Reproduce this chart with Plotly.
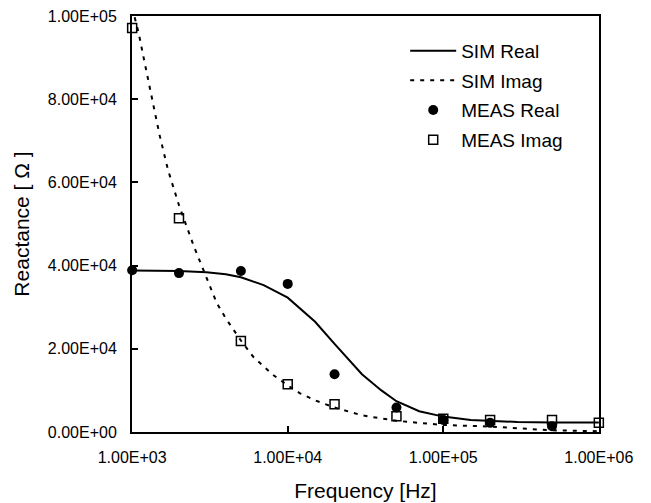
import plotly.graph_objects as go

# ---- data (values in ohms) ----
sim_freq_real = [1e3, 2e3, 3e3, 4e3, 5e3, 7e3, 1e4, 1.5e4, 2e4, 2.5e4, 3e4, 4e4, 5e4, 7e4, 1e5, 1.5e5, 2e5, 3e5, 5e5, 1e6]
sim_real = [38800, 38700, 38400, 37900, 37200, 35300, 32300, 26500, 21200, 17300, 13900, 10000, 7400, 5000, 3700, 2900, 2700, 2400, 2300, 2300]

sim_freq_imag = [1e3, 1.1e3, 1.2e3, 1.3e3, 1.4e3, 1.5e3, 1.7e3, 2e3, 2.5e3, 3e3, 3.5e3, 4e3, 5e3, 6e3, 8e3, 1e4, 1.2e4, 1.5e4, 2e4, 3e4, 5e4, 7e4, 1e5, 2e5, 3e5, 5e5, 1e6]
sim_imag = [102000, 96000, 89000, 82500, 76500, 71400, 63000, 54500, 44500, 37100, 31000, 27300, 22000, 18100, 13800, 11200, 9300, 7600, 5900, 4000, 2700, 2200, 1700, 1300, 900, 400, 200]

meas_freq_real = [1e3, 2e3, 5e3, 1e4, 2e4, 5e4, 1e5, 2e5, 5e5]
meas_real = [38900, 38200, 38700, 35600, 13900, 5900, 2900, 2200, 1400]

meas_freq_imag = [1e3, 2e3, 5e3, 1e4, 2e4, 5e4, 1e5, 2e5, 5e5, 1e6]
meas_imag = [97100, 51400, 21900, 11500, 6700, 3800, 3200, 2900, 2900, 2200]

x_tickvals = [1e3, 1e4, 1e5, 1e6]
x_ticktext = ["1.00E+03", "1.00E+04", "1.00E+05", "1.00E+06"]
y_tickvals = [0, 20000, 40000, 60000, 80000, 100000]
y_ticktext = ["0.00E+00", "2.00E+04", "4.00E+04", "6.00E+04", "8.00E+04", "1.00E+05"]

FONT = "Liberation Sans, Arial, sans-serif"

fig = go.Figure()
fig.add_trace(go.Scatter(x=sim_freq_real, y=sim_real, mode="lines", name="SIM Real",
                         legendgroup="a", line=dict(color="black", width=2)))
fig.add_trace(go.Scatter(x=sim_freq_imag, y=sim_imag, mode="lines", name="SIM Imag",
                         legendgroup="b", line=dict(color="black", width=2, dash="4px,6px")))
fig.add_trace(go.Scatter(x=meas_freq_real, y=meas_real, mode="markers", name="MEAS Real",
                         legendgroup="c", marker=dict(symbol="circle", size=10, color="black"),
                         cliponaxis=False))
fig.add_trace(go.Scatter(x=meas_freq_imag, y=meas_imag, mode="markers", name="MEAS Imag",
                         legendgroup="d", marker=dict(symbol="square-open", size=9, color="black",
                                                       line=dict(width=1.5)),
                         cliponaxis=False))

axis_common = dict(showline=True, linecolor="black", linewidth=2, mirror=True,
                   ticks="inside", ticklen=6, tickwidth=2, tickcolor="black",
                   showgrid=False, zeroline=False, automargin=False,
                   ticklabeloverflow="allow",
                   tickfont=dict(family=FONT, size=16, color="black"))

fig.update_xaxes(type="log", range=[2.999, 6.001], tickvals=x_tickvals, ticktext=x_ticktext,
                 title=dict(text="Frequency [Hz]", font=dict(family=FONT, size=21, color="black"),
                            standoff=18),
                 ticklabelstandoff=10, **axis_common)
fig.update_yaxes(range=[0, 100000], tickvals=y_tickvals, ticktext=y_ticktext,
                 title=dict(text="Reactance [ Ω ]", font=dict(family=FONT, size=21, color="black"),
                            standoff=12),
                 ticklabelstandoff=10, **axis_common)

fig.update_layout(
    width=643, height=495,
    margin=dict(l=124, r=52, t=8, b=71),
    paper_bgcolor="white", plot_bgcolor="white",
    font=dict(family=FONT, color="black"),
    legend=dict(x=0.585, y=0.962, xanchor="left", yanchor="top",
                font=dict(family=FONT, size=19, color="black"),
                bgcolor="rgba(0,0,0,0)", borderwidth=0, tracegroupgap=2,
                itemwidth=46),
    showlegend=True,
)

fig.write_html("out.html")
